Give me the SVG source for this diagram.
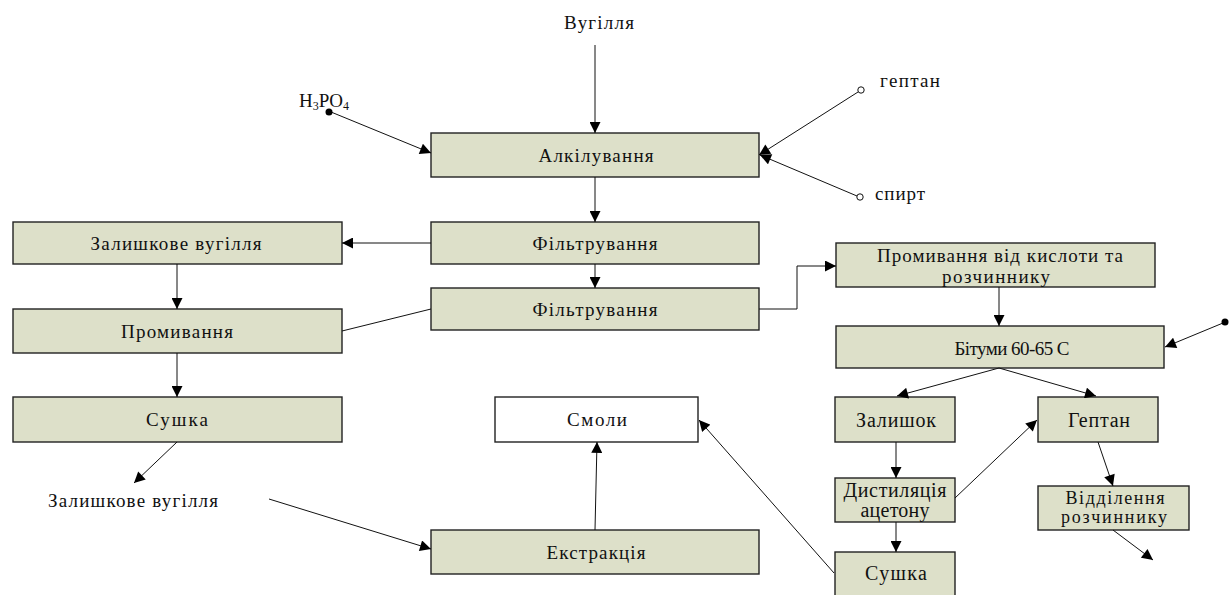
<svg xmlns="http://www.w3.org/2000/svg" width="1232" height="595" viewBox="0 0 1232 595">
<style>
.box{fill:#dde0c9;stroke:#222;stroke-width:1.4}
.wbox{fill:#fff;stroke:#222;stroke-width:1.4}
text{font-family:"Liberation Serif","DejaVu Serif",serif;fill:#111;font-size:19px}
.c{text-anchor:middle}
.big{font-size:20px}
.mid{font-size:18px}
.ln{fill:none;stroke:#111;stroke-width:1}
</style>
<defs>
<marker id="ar" viewBox="0 0 10 10" refX="10" refY="5" markerWidth="12" markerHeight="11" markerUnits="userSpaceOnUse" orient="auto">
<path d="M0,0 L10,5 L0,10 z" fill="#000"/>
</marker>
</defs>
<rect width="1232" height="595" fill="#fff"/>

<g id="n-vugillia"><text class="c" x="599" y="29" textLength="70" lengthAdjust="spacing">Вугілля</text></g>
<g id="n-h3po4"><text x="299" y="107" font-size="18">H<tspan font-size="12" dy="3">3</tspan><tspan dy="-3">PO</tspan><tspan font-size="12" dy="3">4</tspan></text></g>
<g id="n-heptan-in"><text x="880" y="87" textLength="60" lengthAdjust="spacing">гептан</text></g>
<g id="n-spyrt"><text x="875" y="200" textLength="50" lengthAdjust="spacing">спирт</text></g>

<g id="n-alk"><rect class="box" x="431" y="133" width="328" height="44"/><text class="c" x="596" y="162" textLength="115" lengthAdjust="spacing">Алкілування</text></g>
<g id="n-filt1"><rect class="box" x="431" y="222" width="328" height="42"/><text class="c" x="595" y="250" textLength="125" lengthAdjust="spacing">Фільтрування</text></g>
<g id="n-filt2"><rect class="box" x="431" y="288" width="328" height="42"/><text class="c" x="595" y="316" textLength="125" lengthAdjust="spacing">Фільтрування</text></g>
<g id="n-zal-box"><rect class="box" x="13" y="222" width="329" height="42"/><text class="c" x="176" y="250" textLength="171" lengthAdjust="spacing">Залишкове вугілля</text></g>
<g id="n-prom"><rect class="box" x="13" y="309" width="329" height="44"/><text class="c" x="177" y="338" textLength="112" lengthAdjust="spacing">Промивання</text></g>
<g id="n-sush1"><rect class="box" x="13" y="397" width="329" height="45"/><text class="c" x="177" y="426" textLength="62" lengthAdjust="spacing">Сушка</text></g>
<g id="n-zal-text"><text x="48" y="507" textLength="170" lengthAdjust="spacing">Залишкове вугілля</text></g>
<g id="n-smoly"><rect class="wbox" x="495" y="397" width="203" height="45"/><text class="c" x="597" y="426" textLength="60" lengthAdjust="spacing">Смоли</text></g>
<g id="n-ekstr"><rect class="box" x="431" y="530" width="328" height="44"/><text class="c" x="596" y="559" textLength="99" lengthAdjust="spacing">Екстракція</text></g>
<g id="n-prom2"><rect class="box" x="836" y="243" width="319" height="44"/><text class="c" x="1000" y="262" textLength="246" lengthAdjust="spacing">Промивання від кислоти та</text><text class="c" x="996" y="283" textLength="108" lengthAdjust="spacing">розчиннику</text></g>
<g id="n-bitumy"><rect class="box" x="836" y="326" width="328" height="42"/><text class="c" x="1012" y="355" textLength="115" lengthAdjust="spacing">Бітуми 60-65 С</text></g>
<g id="n-zalyshok"><rect class="box" x="835" y="397" width="120" height="45"/><text class="c big" x="896" y="427" textLength="80" lengthAdjust="spacing">Залишок</text></g>
<g id="n-heptan"><rect class="box" x="1038" y="397" width="120" height="45"/><text class="c big" x="1099" y="427" textLength="62" lengthAdjust="spacing">Гептан</text></g>
<g id="n-dyst"><rect class="box" x="835" y="478" width="120" height="44"/><text class="c big" x="895" y="497" textLength="103" lengthAdjust="spacing">Дистиляція</text><text class="c big" x="895" y="517" textLength="69" lengthAdjust="spacing">ацетону</text></g>
<g id="n-viddil"><rect class="box" x="1038" y="486" width="151" height="44"/><text class="c mid" x="1115" y="504" textLength="99" lengthAdjust="spacing">Відділення</text><text class="c mid" x="1114" y="523" textLength="106" lengthAdjust="spacing">розчиннику</text></g>
<g id="n-sush2"><rect class="box" x="835" y="552" width="120" height="50"/><text class="c big" x="896" y="580" textLength="62" lengthAdjust="spacing">Сушка</text></g>

<g id="connectors">
<line class="ln" x1="595" y1="45" x2="595" y2="133" marker-end="url(#ar)"/>
<line class="ln" x1="331" y1="112" x2="431" y2="153" marker-end="url(#ar)"/>
<circle cx="329" cy="112" r="3.5" fill="#000"/>
<line class="ln" x1="858" y1="92" x2="759" y2="155" marker-end="url(#ar)"/>
<circle cx="861" cy="90" r="3.2" fill="#fff" stroke="#111" stroke-width="1"/>
<line class="ln" x1="857" y1="196" x2="760" y2="155" marker-end="url(#ar)"/>
<circle cx="860" cy="197" r="3.2" fill="#fff" stroke="#111" stroke-width="1"/>
<line class="ln" x1="595" y1="177" x2="595" y2="222" marker-end="url(#ar)"/>
<line class="ln" x1="595" y1="264" x2="595" y2="288" marker-end="url(#ar)"/>
<line class="ln" x1="431" y1="243" x2="342" y2="243" marker-end="url(#ar)"/>
<line class="ln" x1="431" y1="309" x2="342" y2="331"/>
<line class="ln" x1="177" y1="264" x2="177" y2="309" marker-end="url(#ar)"/>
<line class="ln" x1="177" y1="353" x2="177" y2="397" marker-end="url(#ar)"/>
<line class="ln" x1="177" y1="442" x2="134" y2="483" marker-end="url(#ar)"/>
<line class="ln" x1="269" y1="499" x2="431" y2="549" marker-end="url(#ar)"/>
<line class="ln" x1="595" y1="530" x2="597" y2="442" marker-end="url(#ar)"/>
<line class="ln" x1="834" y1="573" x2="699" y2="420" marker-end="url(#ar)"/>
<polyline class="ln" points="759,309 797,309 797,266 836,266" marker-end="url(#ar)"/>
<line class="ln" x1="999" y1="287" x2="999" y2="326" marker-end="url(#ar)"/>
<line class="ln" x1="1223" y1="323" x2="1165" y2="347" marker-end="url(#ar)"/>
<circle cx="1225" cy="322" r="3.5" fill="#000"/>
<line class="ln" x1="999" y1="368" x2="897" y2="396" marker-end="url(#ar)"/>
<line class="ln" x1="999" y1="368" x2="1096" y2="396" marker-end="url(#ar)"/>
<line class="ln" x1="896" y1="442" x2="896" y2="478" marker-end="url(#ar)"/>
<line class="ln" x1="896" y1="522" x2="896" y2="552" marker-end="url(#ar)"/>
<line class="ln" x1="955" y1="498" x2="1037" y2="420" marker-end="url(#ar)"/>
<line class="ln" x1="1098" y1="442" x2="1113" y2="486" marker-end="url(#ar)"/>
<line class="ln" x1="1113" y1="530" x2="1153" y2="560" marker-end="url(#ar)"/>
</g>
</svg>
